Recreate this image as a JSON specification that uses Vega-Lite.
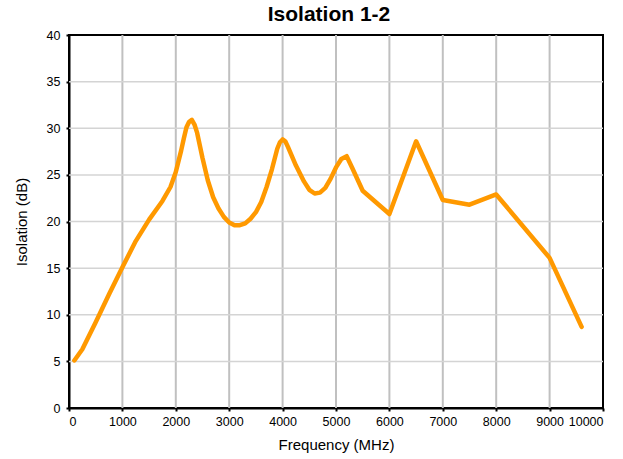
{
  "$schema": "https://vega.github.io/schema/vega-lite/v6.json",
  "autosize": "none",
  "width": 534,
  "height": 373,
  "padding": {"left": 69, "top": 35, "right": 20, "bottom": 51},
  "background": "white",
  "title": {"text": "Isolation 1-2", "font": "Liberation Sans", "fontSize": 21, "fontWeight": "bold", "color": "black", "offset": 4, "dx": -7},
  "config": {
    "view": {"stroke": "black", "strokeWidth": 2},
    "axis": {"labelFont": "Liberation Sans", "titleFont": "Liberation Sans", "labelFontSize": 12.5, "titleFontSize": 15, "titleFontWeight": "normal", "labelColor": "black", "titleColor": "black", "domainColor": "black", "domainWidth": 2, "tickColor": "black", "tickSize": 3, "tickWidth": 2}
  },
  "data": {"values": [
    {"f": 100, "iso": 5.1},
    {"f": 250, "iso": 6.3},
    {"f": 500, "iso": 9.2},
    {"f": 750, "iso": 12.2},
    {"f": 1000, "iso": 15.1},
    {"f": 1250, "iso": 17.9},
    {"f": 1500, "iso": 20.2},
    {"f": 1750, "iso": 22.2},
    {"f": 1900, "iso": 23.7},
    {"f": 2000, "iso": 25.3},
    {"f": 2100, "iso": 27.6},
    {"f": 2150, "iso": 28.9},
    {"f": 2200, "iso": 30.1},
    {"f": 2250, "iso": 30.7},
    {"f": 2300, "iso": 30.9},
    {"f": 2350, "iso": 30.4},
    {"f": 2400, "iso": 29.5},
    {"f": 2500, "iso": 26.8},
    {"f": 2600, "iso": 24.4},
    {"f": 2700, "iso": 22.6},
    {"f": 2800, "iso": 21.4},
    {"f": 2900, "iso": 20.5},
    {"f": 3000, "iso": 19.9},
    {"f": 3100, "iso": 19.6},
    {"f": 3200, "iso": 19.6},
    {"f": 3300, "iso": 19.8},
    {"f": 3400, "iso": 20.3},
    {"f": 3500, "iso": 21.0},
    {"f": 3600, "iso": 22.1},
    {"f": 3700, "iso": 23.7},
    {"f": 3800, "iso": 25.6},
    {"f": 3900, "iso": 27.8},
    {"f": 3950, "iso": 28.5},
    {"f": 4000, "iso": 28.8},
    {"f": 4050, "iso": 28.6},
    {"f": 4100, "iso": 28.0},
    {"f": 4250, "iso": 26.0},
    {"f": 4400, "iso": 24.3},
    {"f": 4500, "iso": 23.4},
    {"f": 4600, "iso": 23.0},
    {"f": 4700, "iso": 23.1},
    {"f": 4800, "iso": 23.6},
    {"f": 4900, "iso": 24.6},
    {"f": 5000, "iso": 25.8},
    {"f": 5100, "iso": 26.7},
    {"f": 5200, "iso": 27.0},
    {"f": 5300, "iso": 25.8},
    {"f": 5500, "iso": 23.3},
    {"f": 6000, "iso": 20.8},
    {"f": 6500, "iso": 28.6},
    {"f": 7000, "iso": 22.3},
    {"f": 7500, "iso": 21.8},
    {"f": 8000, "iso": 22.9},
    {"f": 9000, "iso": 16.1},
    {"f": 9600, "iso": 8.7}
  ]},
  "layer": [
    {
      "mark": {"type": "rule", "color": "#c0c0c0", "strokeWidth": 2},
      "data": {"values": [{"g": 1000}, {"g": 2000}, {"g": 3000}, {"g": 4000}, {"g": 5000}, {"g": 6000}, {"g": 7000}, {"g": 8000}, {"g": 9000}]},
      "encoding": {"x": {"field": "g", "type": "quantitative", "scale": {"domain": [0, 10000]}}}
    },
    {
      "mark": {"type": "rule", "color": "#d4d4d4", "strokeWidth": 1.5},
      "data": {"values": [{"h": 5}, {"h": 10}, {"h": 15}, {"h": 20}, {"h": 25}, {"h": 30}, {"h": 35}]},
      "encoding": {"y": {"field": "h", "type": "quantitative", "scale": {"domain": [0, 40]}}}
    },
    {
      "mark": {"type": "line", "color": "#FF9900", "strokeWidth": 4.5, "interpolate": "linear", "strokeCap": "round", "strokeJoin": "round"},
      "encoding": {
        "x": {"field": "f", "type": "quantitative", "title": "Frequency (MHz)", "scale": {"domain": [0, 10000], "nice": false}, "axis": {"values": [0, 1000, 2000, 3000, 4000, 5000, 6000, 7000, 8000, 9000, 10000], "format": "d", "grid": false, "labelPadding": 4, "titlePadding": 10}},
        "y": {"field": "iso", "type": "quantitative", "title": "Isolation (dB)", "scale": {"domain": [0, 40], "nice": false}, "axis": {"values": [0, 5, 10, 15, 20, 25, 30, 35, 40], "grid": false, "labelPadding": 6, "titlePadding": 17}}
      }
    }
  ]
}
